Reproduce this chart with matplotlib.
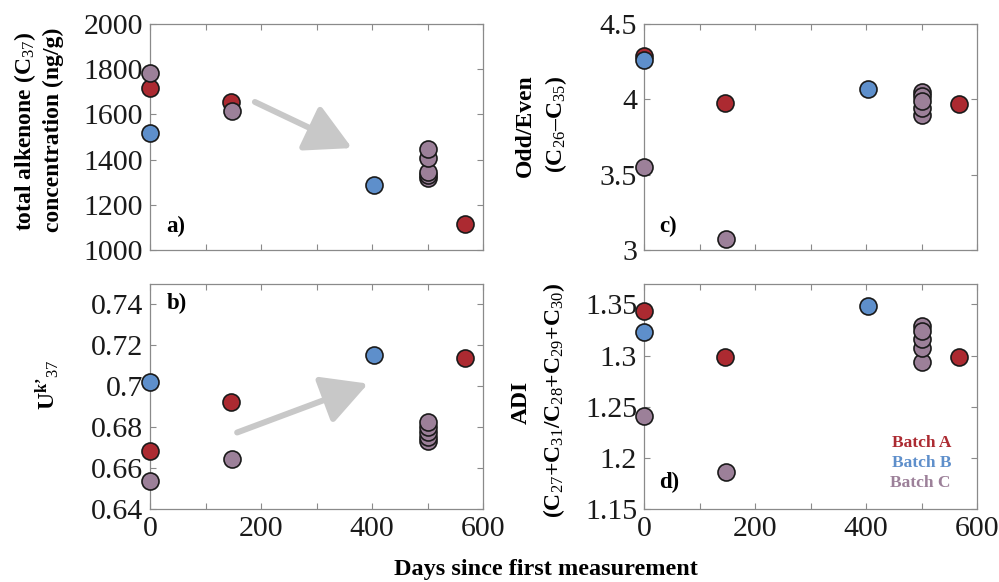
import matplotlib
matplotlib.use("Agg")
import matplotlib.pyplot as plt
from matplotlib.ticker import FuncFormatter, MultipleLocator

plt.rcParams['font.family'] = ['Liberation Serif', 'DejaVu Serif']
plt.rcParams['mathtext.fontset'] = 'custom'
plt.rcParams['mathtext.rm'] = 'Liberation Serif'
plt.rcParams['mathtext.it'] = 'Liberation Serif:italic'
plt.rcParams['mathtext.bf'] = 'Liberation Serif:bold'

# ---- data ----
days_A = [0, 146, 567]
days_B = [0, 404]
days_C = [0, 148, 500, 500, 500, 500, 500]

conc_A = [1716, 1657, 1113]
conc_B = [1516, 1286]
conc_C = [1783, 1616, 1318, 1332, 1345, 1408, 1446]

uk_A = [0.6683, 0.6925, 0.7137]
uk_B = [0.7022, 0.7152]
uk_C = [0.6537, 0.6643, 0.6730, 0.6754, 0.6778, 0.6802, 0.6824]

oe_A = [4.288, 3.976, 3.969]
oe_B = [4.262, 4.067]
oe_C = [3.549, 3.075, 3.895, 3.94, 4.05, 4.02, 3.99]

adi_A = [1.3438, 1.2982, 1.2987]
adi_B = [1.3234, 1.3483]
adi_C = [1.2413, 1.1862, 1.2937, 1.3078, 1.3165, 1.3290, 1.3245]

batch_labels = ["Batch A", "Batch B", "Batch C"]
col_A = "#AC2A31"
col_B = "#5E8FCB"
col_C = "#9C8099"

fig = plt.figure(figsize=(9.99, 5.82), dpi=100)

W = 333 / 999
H = 226 / 582
pos = {
    'a': [150 / 999, 1 - 250 / 582, W, H],
    'b': [150 / 999, 1 - 509 / 582, W, 225 / 582],
    'c': [644 / 999, 1 - 250 / 582, W, H],
    'd': [644 / 999, 1 - 509 / 582, W, 225 / 582],
}

spine_col = "#8a8a8a"

def fmt(v, p):
    return "%g" % round(v, 6)

def style(ax, ylim, ystep, bottom):
    ax.set_xlim(0, 600)
    ax.set_ylim(*ylim)
    ax.xaxis.set_major_locator(MultipleLocator(100))
    ax.yaxis.set_major_locator(MultipleLocator(ystep))
    ax.yaxis.set_major_formatter(FuncFormatter(fmt))
    if bottom:
        ax.xaxis.set_major_formatter(FuncFormatter(
            lambda v, p: "%d" % v if int(round(v)) % 200 == 0 else ""))
    else:
        ax.set_xticklabels([])
    ax.tick_params(direction='in', length=4, width=0.8, color=spine_col,
                   top=True, right=True, labelsize=21.5, pad=5,
                   labelcolor='#1a1a1a')
    for s in ax.spines.values():
        s.set_color(spine_col)
        s.set_linewidth(0.9)

def scatter(ax, A, B, C):
    kw = dict(s=150, edgecolors='#1a1a1a', linewidths=1.2, clip_on=False, zorder=3)
    ax.scatter(days_A, A, color=col_A, **kw)
    ax.scatter(days_B, B, color=col_B, **kw)
    ax.scatter(days_C, C, color=col_C, **kw)

arrow_kw = dict(arrowstyle='-|>,head_length=0.56,head_width=0.3',
                color='#c8c8c8', lw=4.3, mutation_scale=50,
                shrinkA=0, shrinkB=0)

# a)
axa = fig.add_axes(pos['a'])
style(axa, (1000, 2000), 200, False)
scatter(axa, conc_A, conc_B, conc_C)
axa.annotate("", xy=(364, 1451), xytext=(189, 1655), arrowprops=arrow_kw, zorder=2)
axa.text(0.05, 0.105, "a)", transform=axa.transAxes, fontsize=16.5,
         fontweight='bold', ha='left', va='center')

# b)
axb = fig.add_axes(pos['b'])
style(axb, (0.64, 0.75), 0.02, True)
scatter(axb, uk_A, uk_B, uk_C)
axb.annotate("", xy=(393, 0.7013), xytext=(157, 0.6774), arrowprops=arrow_kw, zorder=2)
axb.text(0.05, 0.915, "b)", transform=axb.transAxes, fontsize=16.5,
         fontweight='bold', ha='left', va='center')

# c)
axc = fig.add_axes(pos['c'])
style(axc, (3, 4.5), 0.5, False)
scatter(axc, oe_A, oe_B, oe_C)
axc.text(0.045, 0.105, "c)", transform=axc.transAxes, fontsize=16.5,
         fontweight='bold', ha='left', va='center')

# d)
axd = fig.add_axes(pos['d'])
style(axd, (1.15, 1.37), 0.05, True)
scatter(axd, adi_A, adi_B, adi_C)
axd.text(0.045, 0.12, "d)", transform=axd.transAxes, fontsize=16.5,
         fontweight='bold', ha='left', va='center')

for i, (lab, c) in enumerate(zip(batch_labels, [col_A, col_B, col_C])):
    fig.text(951 / 999, 1 - (443 + 20 * i) / 582, lab, color=c, fontsize=12.5,
             fontweight='bold', ha='right', va='center')

# y labels (one text per line)
def ylab(x, y, s):
    fig.text(x / 999, 1 - y / 582, s, rotation=90, ha='center', va='center',
             fontsize=17, fontweight='bold')

ylab(25, 131, "total alkenone (C$_{37}$)")
ylab(53, 130, "concentration (ng/g)")
ylab(47, 385, "U$^{\\mathbf{k\u2019}}$$_{37}$")
ylab(525, 126, "Odd/Even")
ylab(556, 124, "(C$_{26}$\u2013C$_{35}$)")
ylab(521, 402, "ADI")
ylab(554, 400, "(C$_{27}$+C$_{31}$/C$_{28}$+C$_{29}$+C$_{30}$)")

fig.text(546 / 999, 1 - 570 / 582, "Days since first measurement",
         ha='center', va='center', fontsize=17.5, fontweight='bold')

fig.savefig("out.png", dpi=100)
